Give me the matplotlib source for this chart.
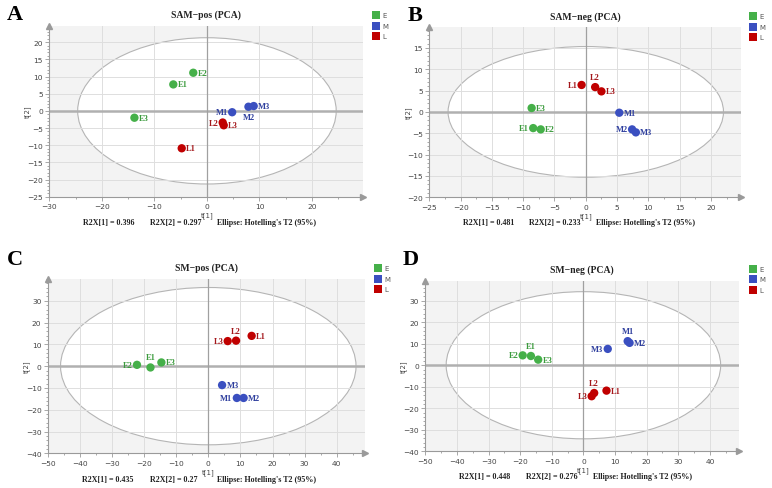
import matplotlib
matplotlib.use('Agg')
import matplotlib.pyplot as plt
from matplotlib.patches import Ellipse, Rectangle
from matplotlib.ticker import MultipleLocator

# Datos de los cuatro paneles PCA
groups = ['E', 'M', 'L']
sample_names = ['E1', 'E2', 'E3', 'M1', 'M2', 'M3', 'L1', 'L2', 'L3']

a_t1 = [-6.4, -2.6, -13.8, 4.8, 7.9, 8.9, -4.8, 3.0, 3.2]
a_t2 = [7.7, 11.1, -2.0, -0.4, 1.2, 1.4, -10.9, -3.4, -4.2]
b_t1 = [-8.4, -7.2, -8.65, 5.35, 7.4, 8.0, -0.67, 1.5, 2.5]
b_t2 = [-3.8, -4.1, 0.9, -0.2, -4.1, -4.8, 6.3, 5.8, 4.8]
c_t1 = [-18.0, -22.2, -14.6, 8.9, 11.0, 4.3, 13.5, 8.65, 6.05]
c_t2 = [-0.6, 0.6, 1.7, -14.6, -14.6, -8.7, 13.9, 11.7, 11.5]
d_t1 = [-16.6, -19.2, -14.3, 14.0, 14.6, 7.7, 7.3, 3.4, 2.6]
d_t2 = [4.3, 4.6, 2.6, 11.2, 10.4, 7.6, -11.8, -12.9, -14.4]

titles = ['SAM\u2212pos (PCA)', 'SAM\u2212neg (PCA)', 'SM\u2212pos (PCA)', 'SM\u2212neg (PCA)']
panel_letters = ['A', 'B', 'C', 'D']
r2x_1 = ['0.396', '0.481', '0.435', '0.448']
r2x_2 = ['0.297', '0.233', '0.27', '0.276']

# posicion de la etiqueta de cada muestra: r=derecha, l=izquierda, u=arriba, d=abajo
a_lab = ['r', 'r', 'r', 'l', 'd', 'r', 'r', 'l', 'r']
b_lab = ['l', 'r', 'r', 'r', 'l', 'r', 'l', 'u', 'r']
c_lab = ['u', 'l', 'r', 'l', 'r', 'r', 'r', 'u', 'l']
d_lab = ['u', 'l', 'r', 'u', 'r', 'l', 'r', 'u', 'l']

POINT_COLORS = {'E': '#45b049', 'M': '#3a4fc0', 'L': '#c00000'}
TEXT_COLORS = {'E': '#3a9a3c', 'M': '#2f3f9e', 'L': '#a3161a'}

W, H = 772, 489
fig = plt.figure(figsize=(W / 100, H / 100), dpi=100)

# ejes en pixeles: (izq, der, arriba, abajo)
boxes = [(49.3, 363, 26.7, 197.7), (429.3, 741, 28.3, 198.3),
         (47.7, 365, 280, 454.3), (425.3, 739.3, 281.7, 452.3)]
limits = [((-30, 29.7), (-25, 24.8), 10, 5, (24.6, 21.3)),
          ((-25, 24.8), (-20, 19.8), 5, 5, (22.0, 15.3)),
          ((-50, 48.8), (-40, 40), 10, 10, (46.0, 36.1)),
          ((-50, 49.3), (-40, 39.3), 10, 10, (43.4, 34.2))]
legend_pos = [(372, 12), (749, 13), (374, 265), (749, 265.7)]
letter_pos = [(15, 15), (415, 16), (15, 260), (411, 260)]

data = [(a_t1, a_t2, a_lab), (b_t1, b_t2, b_lab), (c_t1, c_t2, c_lab), (d_t1, d_t2, d_lab)]

serif = 'Liberation Serif'
GRAY = '#9a9a9a'

for k in range(4):
    l, r, t, b = boxes[k]
    ax = fig.add_axes([l / W, 1 - b / H, (r - l) / W, (b - t) / H])
    (x0, x1), (y0, y1), xstep, ystep, (ea, eb) = limits[k]
    ax.set_facecolor('#f3f3f3')

    ell = Ellipse((0, 0), 2 * ea, 2 * eb, facecolor='white', edgecolor='#b5b5b5', lw=0.8, zorder=0.5)
    ax.add_patch(ell)

    ax.xaxis.set_major_locator(MultipleLocator(xstep))
    ax.yaxis.set_major_locator(MultipleLocator(ystep))
    ax.xaxis.set_minor_locator(MultipleLocator(xstep / 2))
    ax.yaxis.set_minor_locator(MultipleLocator(ystep / 5))
    ax.grid(True, which='major', color='#dedede', lw=0.7, zorder=1)
    ax.set_axisbelow(True)

    ax.axhline(0, color='#b0b0b0', lw=1.8, zorder=1.5)
    ax.axvline(0, color='#a0a0a0', lw=0.9, zorder=1.5)

    for s in ['top', 'right']:
        ax.spines[s].set_visible(False)
    for s in ['left', 'bottom']:
        ax.spines[s].set_color(GRAY)
        ax.spines[s].set_linewidth(0.8)
    ax.plot([0], [1], marker='^', color=GRAY, ms=4, transform=ax.transAxes, clip_on=False)
    ax.plot([1], [0], marker='>', color=GRAY, ms=4, transform=ax.transAxes, clip_on=False)

    ax.tick_params(which='both', colors=GRAY, labelcolor='#444444', labelsize=5.4, width=0.6)
    ax.tick_params(which='major', length=3, pad=1.5)
    ax.tick_params(which='minor', length=1.5)
    ax.set_xlim(x0, x1)
    ax.set_ylim(y0, y1)
    ax.set_xticks([v for v in ax.get_xticks() if x0 <= v <= x1 - 1])
    ax.set_yticks([v for v in ax.get_yticks() if y0 <= v <= y1 - 1])
    ax.set_xlim(x0, x1)
    ax.set_ylim(y0, y1)

    t1, t2, labs = data[k]
    dx = (x1 - x0) * 0.014
    dy = (y1 - y0) * 0.035
    for i, name in enumerate(sample_names):
        g = name[0]
        ax.scatter(t1[i], t2[i], s=36, color=POINT_COLORS[g], edgecolors='none', zorder=3)
        pos = labs[i]
        if pos == 'r':
            kw = dict(x=t1[i] + dx, y=t2[i], ha='left', va='center')
        elif pos == 'l':
            kw = dict(x=t1[i] - dx, y=t2[i], ha='right', va='center')
        elif pos == 'u':
            kw = dict(x=t1[i], y=t2[i] + dy, ha='center', va='bottom')
        else:
            kw = dict(x=t1[i], y=t2[i] - dy, ha='center', va='top')
        ax.text(s=name, color=TEXT_COLORS[g], fontsize=6, fontweight='bold',
                family=serif, zorder=4, **kw)

    # etiquetas de ejes
    xz = (0 - x0) / (x1 - x0)
    yz = (0 - y0) / (y1 - y0)
    ax.text(xz, -0.085, 't[1]', transform=ax.transAxes, ha='center', va='top',
            fontsize=5, color='#444444')
    ax.text(-0.068, yz, 't[2]', transform=ax.transAxes, ha='center', va='center',
            rotation=90, fontsize=5, color='#444444')

    ax.text(0.5, 1.065, titles[k], transform=ax.transAxes, ha='center', va='center',
            fontsize=7, fontweight='bold', family=serif, color='#222222')

    yr = -0.147
    for xf, txt in [(0.107, 'R2X[1] = ' + r2x_1[k]), (0.321, 'R2X[2] = ' + r2x_2[k]),
                    (0.535, "Ellipse: Hotelling's T2 (95%)")]:
        ax.text(xf, yr, txt, transform=ax.transAxes, ha='left', va='center',
                fontsize=5.8, fontweight='bold', family=serif, color='#222222')

    # letra del panel
    lx, ly = letter_pos[k]
    fig.text(lx / W, 1 - ly / H, panel_letters[k], ha='center', va='center',
             fontsize=16, fontweight='bold', family=serif, color='black')

    # leyenda
    gx, gy = legend_pos[k]
    for j, g in enumerate(groups):
        top = gy + j * 10.7
        fig.patches.append(Rectangle((gx / W, 1 - (top + 8) / H), 8 / W, 8 / H,
                                     transform=fig.transFigure, facecolor=POINT_COLORS[g],
                                     edgecolor='none'))
        fig.text((gx + 10) / W, 1 - (top + 4) / H, g, ha='left', va='center',
                 fontsize=5, color='#555555')

fig.savefig('out.png', dpi=100)
